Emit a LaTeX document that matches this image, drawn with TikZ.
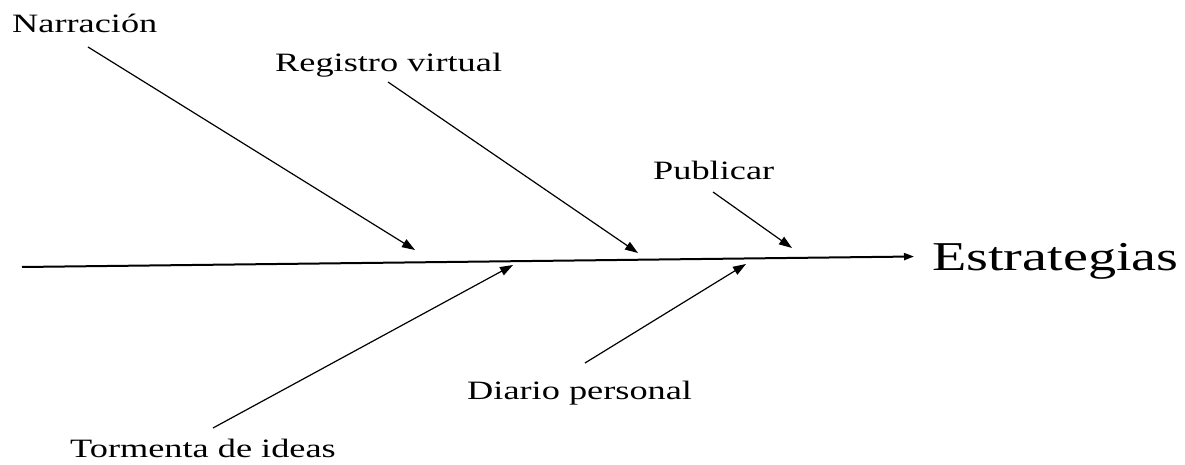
\documentclass[tikz,border=0pt]{standalone}
\usepackage{fontspec}
\setmainfont[FakeStretch=1.37]{Liberation Serif}
\usetikzlibrary{arrows.meta}
\tikzset{
  lbl/.style={anchor=base west, inner sep=0pt, font=\fontsize{26.5}{30}\selectfont},
  big/.style={anchor=base west, inner sep=0pt, font=\fontsize{41}{46}\selectfont},
  branch/.style={line width=1.2pt, -{Triangle[length=13pt,width=9pt]}},
  spine/.style={line width=2pt, -{Triangle[length=10pt,width=7pt]}}
}
\begin{document}
\begin{tikzpicture}[x=1pt,y=-1pt]
\useasboundingbox (0,0) rectangle (1185,465);
% labels
\node[lbl] (narr) at (12,33) {Narración};
\node[lbl] (reg) at (275,72) {Registro virtual};
\node[lbl] (pub) at (653,180) {Publicar};
\node[lbl] (torm) at (70,457) {Tormenta de ideas};
\node[lbl] (diar) at (467,399) {Diario personal};
\node[big] (estr) at (932,270) {Estrategias};
% spine
\coordinate (s0) at (22,267);
\coordinate (s1) at (914,256.5);
\draw[spine] (s0) -- (s1);
% branch ends
\coordinate (n0) at (88,47);
\coordinate (n1) at (415,250);
\coordinate (r0) at (388,82);
\coordinate (r1) at (638,253);
\coordinate (p0) at (713,192);
\coordinate (p1) at (792,248);
\coordinate (t0) at (213,428);
\coordinate (t1) at (513,265);
\coordinate (d0) at (585,363);
\coordinate (d1) at (746,264);
\draw[branch] (n0) -- (n1);
\draw[branch] (r0) -- (r1);
\draw[branch] (p0) -- (p1);
\draw[branch] (t0) -- (t1);
\draw[branch] (d0) -- (d1);
\end{tikzpicture}
\end{document}
